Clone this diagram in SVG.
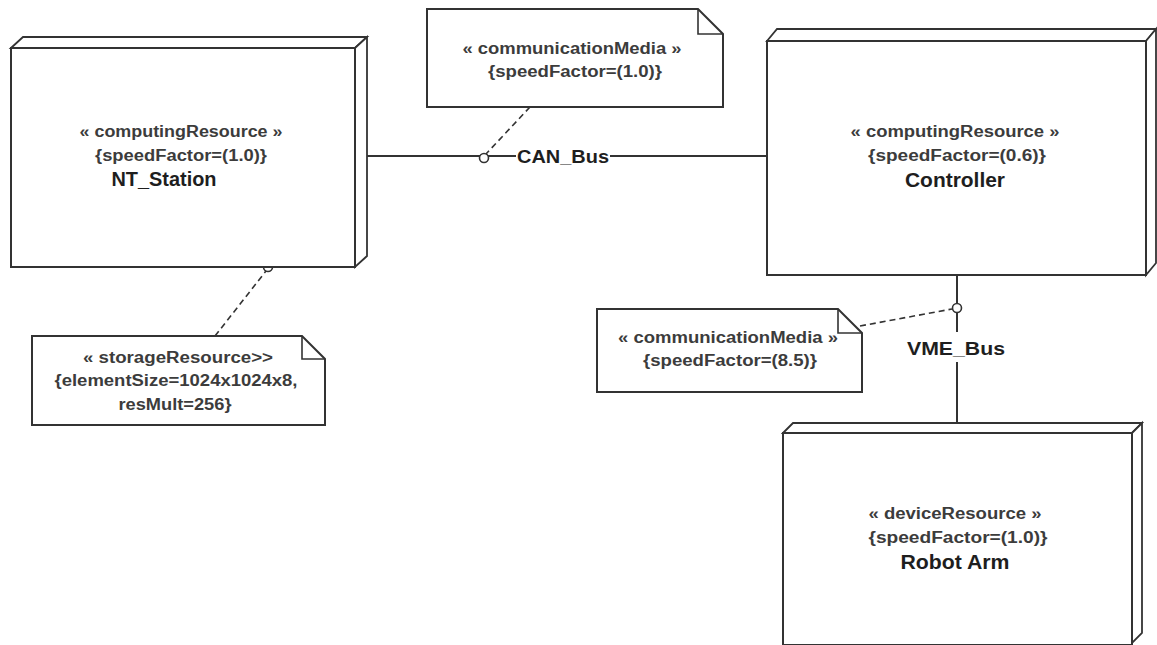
<svg xmlns="http://www.w3.org/2000/svg" width="1157" height="645" viewBox="0 0 1157 645">
<style>
.face{fill:#ffffff;stroke:#333;stroke-width:2;stroke-linejoin:miter}
.side{fill:#ffffff;stroke:#333;stroke-width:1.8}
.note{fill:#ffffff;stroke:#333;stroke-width:2}
.fold{fill:none;stroke:#333;stroke-width:1.6}
.conn{stroke:#333;stroke-width:2;fill:none}
.dash{stroke:#333;stroke-width:1.6;fill:none;stroke-dasharray:6,4}
.port{fill:#fff;stroke:#333;stroke-width:1.6}
.st{font-family:"Liberation Sans",Arial,sans-serif;font-weight:bold;font-size:16px;fill:#3c3c3c;text-anchor:middle}
.nm{font-family:"Liberation Sans",Arial,sans-serif;font-weight:bold;font-size:20px;fill:#1e1e1e;text-anchor:middle}
.lb{font-family:"Liberation Sans",Arial,sans-serif;font-weight:bold;font-size:19px;fill:#1e1e1e}
</style>
<rect width="1157" height="645" fill="#ffffff"/>

<g id="connectors">
  <line class="conn" x1="367" y1="156" x2="516" y2="156"/>
  <line class="conn" x1="610" y1="156" x2="767" y2="156"/>
  <line class="conn" x1="957" y1="275" x2="957" y2="332"/>
  <line class="conn" x1="957" y1="362" x2="957" y2="423"/>
  <line class="dash" x1="530" y1="107" x2="486" y2="154"/>
  <line class="dash" x1="215" y1="336" x2="266" y2="271"/>
  <line class="dash" x1="860" y1="326" x2="952" y2="309"/>
  <circle class="port" cx="484" cy="158" r="4.5"/>
  <circle class="port" cx="268" cy="267" r="4.5"/>
  <circle class="port" cx="957" cy="308" r="4.5"/>
  <text class="lb" x="517" y="163" textLength="92" lengthAdjust="spacingAndGlyphs">CAN_Bus</text>
  <text class="lb" x="907" y="355" font-size="20" textLength="98" lengthAdjust="spacingAndGlyphs">VME_Bus</text>
</g>

<g id="nt_station">
  <polygon class="side" points="11,48 23,37 367,37 355,48"/>
  <polygon class="side" points="355,48 367,37 367,256 355,267"/>
  <rect class="face" x="11" y="48" width="344" height="219"/>
  <text class="st" x="181" y="137" textLength="203" lengthAdjust="spacingAndGlyphs">« computingResource »</text>
  <text class="st" x="181" y="161" textLength="172" lengthAdjust="spacingAndGlyphs">{speedFactor=(1.0)}</text>
  <text class="nm" x="164" y="186" textLength="105" lengthAdjust="spacingAndGlyphs">NT_Station</text>
</g>

<g id="controller">
  <polygon class="side" points="767,41 777,29 1156,29 1146,41"/>
  <polygon class="side" points="1146,41 1156,29 1156,263 1146,275"/>
  <rect class="face" x="767" y="41" width="379" height="234"/>
  <text class="st" x="955" y="137" textLength="209" lengthAdjust="spacingAndGlyphs">« computingResource »</text>
  <text class="st" x="957" y="161" textLength="178" lengthAdjust="spacingAndGlyphs">{speedFactor=(0.6)}</text>
  <text class="nm" x="955" y="187" textLength="100" lengthAdjust="spacingAndGlyphs">Controller</text>
</g>

<g id="robot_arm">
  <polygon class="side" points="783,433 793,423 1142,423 1132,433"/>
  <polygon class="side" points="1132,433 1142,423 1142,633 1132,643"/>
  <rect class="face" x="783" y="433" width="349" height="212"/>
  <text class="st" x="955" y="519" textLength="173" lengthAdjust="spacingAndGlyphs">« deviceResource »</text>
  <text class="st" x="958" y="543" textLength="179" lengthAdjust="spacingAndGlyphs">{speedFactor=(1.0)}</text>
  <text class="nm" x="955" y="569" textLength="109" lengthAdjust="spacingAndGlyphs">Robot Arm</text>
</g>

<g id="note_can">
  <polygon class="note" points="427,9 698,9 723,34 723,107 427,107"/>
  <polyline class="fold" points="698,9 698,34 723,34"/>
  <text class="st" x="572" y="54" textLength="219" lengthAdjust="spacingAndGlyphs">« communicationMedia »</text>
  <text class="st" x="575" y="77" textLength="174" lengthAdjust="spacingAndGlyphs">{speedFactor=(1.0)}</text>
</g>

<g id="note_vme">
  <polygon class="note" points="597,309 838,309 862,333 862,392 597,392"/>
  <polyline class="fold" points="838,309 838,333 862,333"/>
  <text class="st" x="728" y="343" textLength="220" lengthAdjust="spacingAndGlyphs">« communicationMedia »</text>
  <text class="st" x="730" y="366" textLength="174" lengthAdjust="spacingAndGlyphs">{speedFactor=(8.5)}</text>
</g>

<g id="note_storage">
  <polygon class="note" points="32,336 302,336 325,359 325,425 32,425"/>
  <polyline class="fold" points="302,336 302,359 325,359"/>
  <text class="st" x="178" y="363" textLength="190" lengthAdjust="spacingAndGlyphs">« storageResource&gt;&gt;</text>
  <text class="st" x="176" y="386" textLength="243" lengthAdjust="spacingAndGlyphs">{elementSize=1024x1024x8,</text>
  <text class="st" x="175" y="410" textLength="113" lengthAdjust="spacingAndGlyphs">resMult=256}</text>
</g>
</svg>
